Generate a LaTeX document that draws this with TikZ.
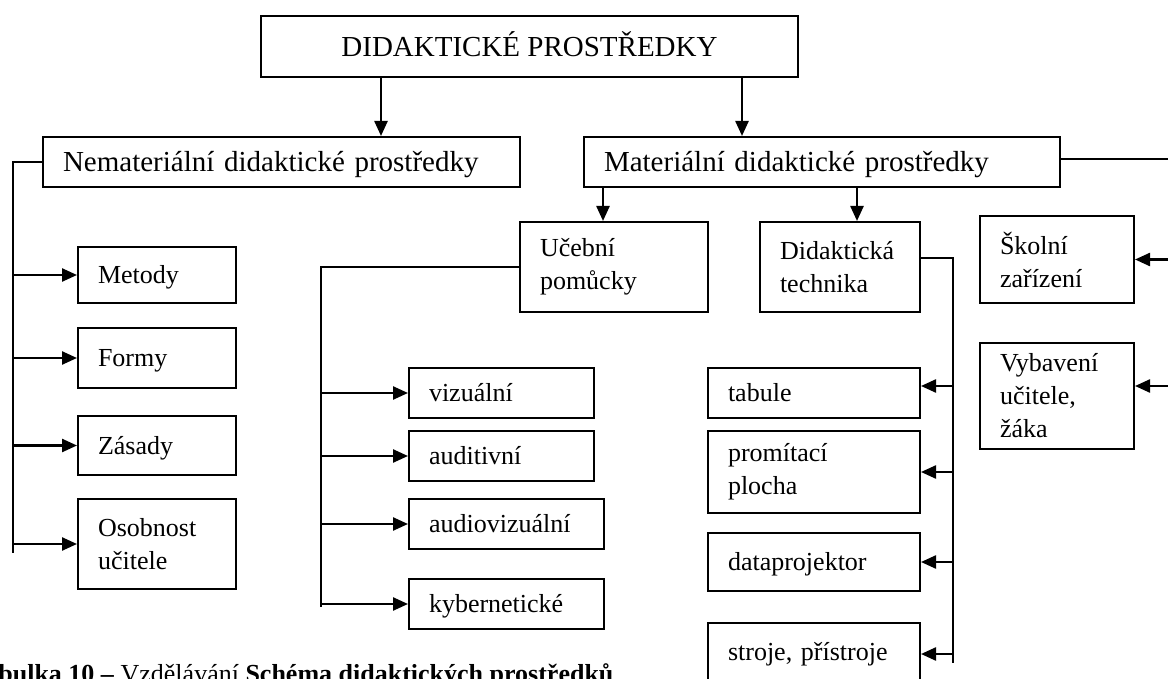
\documentclass[tikz,border=0pt]{standalone}
\usepackage{fontspec}
\setmainfont{Liberation Serif}
\usetikzlibrary{arrows.meta,calc}

\newcommand{\boxfont}{\fontsize{13}{16.5}\selectfont}
\newcommand{\headfont}{\fontsize{14.5}{17}\selectfont}

\tikzset{
  box/.style={draw,line width=1pt,anchor=north west,inner xsep=10pt,inner ysep=0pt,align=left,font=\boxfont},
  head/.style={box,font=\headfont,text height=9.6pt,text depth=0pt},
  one/.style={text height=8.6pt,text depth=0pt},
  link/.style={line width=1pt},
  arr/.style={line width=1.2pt,-{Triangle[length=7.5pt,width=6.5pt]}},
}

\begin{document}
\begin{tikzpicture}[x=0.5pt,y=-0.5pt]
\useasboundingbox (0,0) rectangle (1168,679);
% top level
\node[head,align=center,minimum width=268.5pt,minimum height=30.5pt] (top) at (260,15) {DIDAKTICKÉ PROSTŘEDKY};
\node[head,text width=218.5pt,minimum height=25pt] (nemat) at (42,136) {Nemateriální didaktické prostředky};
\node[head,text width=218pt,minimum height=25pt] (mat) at (583,136) {Materiální didaktické prostředky};
% nematerialni
\node[box,one,text width=59pt,minimum height=28pt] (metody) at (77,246) {Metody};
\node[box,one,text width=59pt,minimum height=30pt] (formy) at (77,327) {Formy};
\node[box,one,text width=59pt,minimum height=29.5pt] (zasady) at (77,415) {Zásady};
\node[box,text width=59pt,minimum height=45pt] (osobnost) at (77,498) {Osobnost\\učitele};
% materialni
\node[box,text width=74pt,minimum height=45pt] (ucebni) at (519,221) {Učební\\pomůcky};
\node[box,text width=60pt,minimum height=45pt] (didtech) at (759,221) {Didaktická\\technika};
\node[box,text width=57pt,minimum height=43.5pt] (skolni) at (979,215) {Školní\\zařízení};
\node[box,text width=57pt,minimum height=53pt] (vybaveni) at (979,342) {Vybavení\\učitele,\\žáka};
% ucebni pomucky
\node[box,one,text width=72.5pt,minimum height=25pt] (vizualni) at (408,367) {vizuální};
\node[box,one,text width=72.5pt,minimum height=25pt] (auditivni) at (408,430) {auditivní};
\node[box,one,text width=77.5pt,minimum height=25pt] (audiovizualni) at (408,498) {audiovizuální};
\node[box,one,text width=77.5pt,minimum height=25pt] (kyber) at (408,578) {kybernetické};
% didakticka technika
\node[box,one,text width=86pt,minimum height=25pt] (tabule) at (707,367) {tabule};
\node[box,text width=86pt,minimum height=41pt] (promitaci) at (707,430) {promítací\\plocha};
\node[box,one,text width=86pt,minimum height=29pt] (datap) at (707,532) {dataprojektor};
\node[box,text width=86pt,minimum height=45pt,text height=8.6pt,text depth=16.1pt] (stroje) at (707,622) {stroje, přístroje};
% caption
\node[anchor=base west,font=\boxfont,inner sep=0pt] (cap) at (-30,682) {\textbf{Tabulka 10 –} Vzdělávání \textbf{Schéma didaktických prostředků}};

% connectors
\coordinate (tl) at ($(top.south west)+(121,0)$);
\coordinate (tr) at ($(top.south west)+(482,0)$);
\draw[arr] (tl) -- (tl |- nemat.north);
\draw[arr] (tr) -- (tr |- mat.north);

\coordinate (lbot) at (13,553);
\draw[link] (nemat.west) -| (lbot);
\draw[arr] (lbot |- metody.west) -- (metody.west);
\draw[arr] (lbot |- formy.west) -- (formy.west);
\draw[arr] (lbot |- zasady.west) -- (zasady.west);
\draw[arr] (lbot |- osobnost.west) -- (osobnost.west);

\coordinate (mu) at ($(mat.south west)+(20,0)$);
\coordinate (md) at ($(mat.south west)+(274,0)$);
\draw[arr] (mu) -- (mu |- ucebni.north);
\draw[arr] (md) -- (md |- didtech.north);

\coordinate (ubot) at (321,607);
\draw[link] (ucebni.west) -| (ubot);
\draw[arr] (ubot |- vizualni.west) -- (vizualni.west);
\draw[arr] (ubot |- auditivni.west) -- (auditivni.west);
\draw[arr] (ubot |- audiovizualni.west) -- (audiovizualni.west);
\draw[arr] (ubot |- kyber.west) -- (kyber.west);

\coordinate (dtop) at ([yshift=4.5pt]didtech.east);
\coordinate (tabin) at ([yshift=3.5pt]tabule.east);
\coordinate (strin) at ([yshift=7pt]stroje.east);
\coordinate (dbot) at (953,663);
\draw[link] (dtop) -| (dbot);
\draw[arr] (dbot |- tabin) -- (tabin);
\draw[arr] (dbot |- promitaci.east) -- (promitaci.east);
\draw[arr] (dbot |- datap.east) -- (datap.east);
\draw[arr] (dbot |- strin) -- (strin);

\coordinate (mright) at ([yshift=1.5pt]mat.east);
\coordinate (vybin) at ([yshift=5pt]vybaveni.east);
\coordinate (rbot) at (1172,400);
\draw[link] (mright) -| (rbot);
\draw[arr] (rbot |- skolni.east) -- (skolni.east);
\draw[arr] (rbot |- vybin) -- (vybin);
\end{tikzpicture}
\end{document}
